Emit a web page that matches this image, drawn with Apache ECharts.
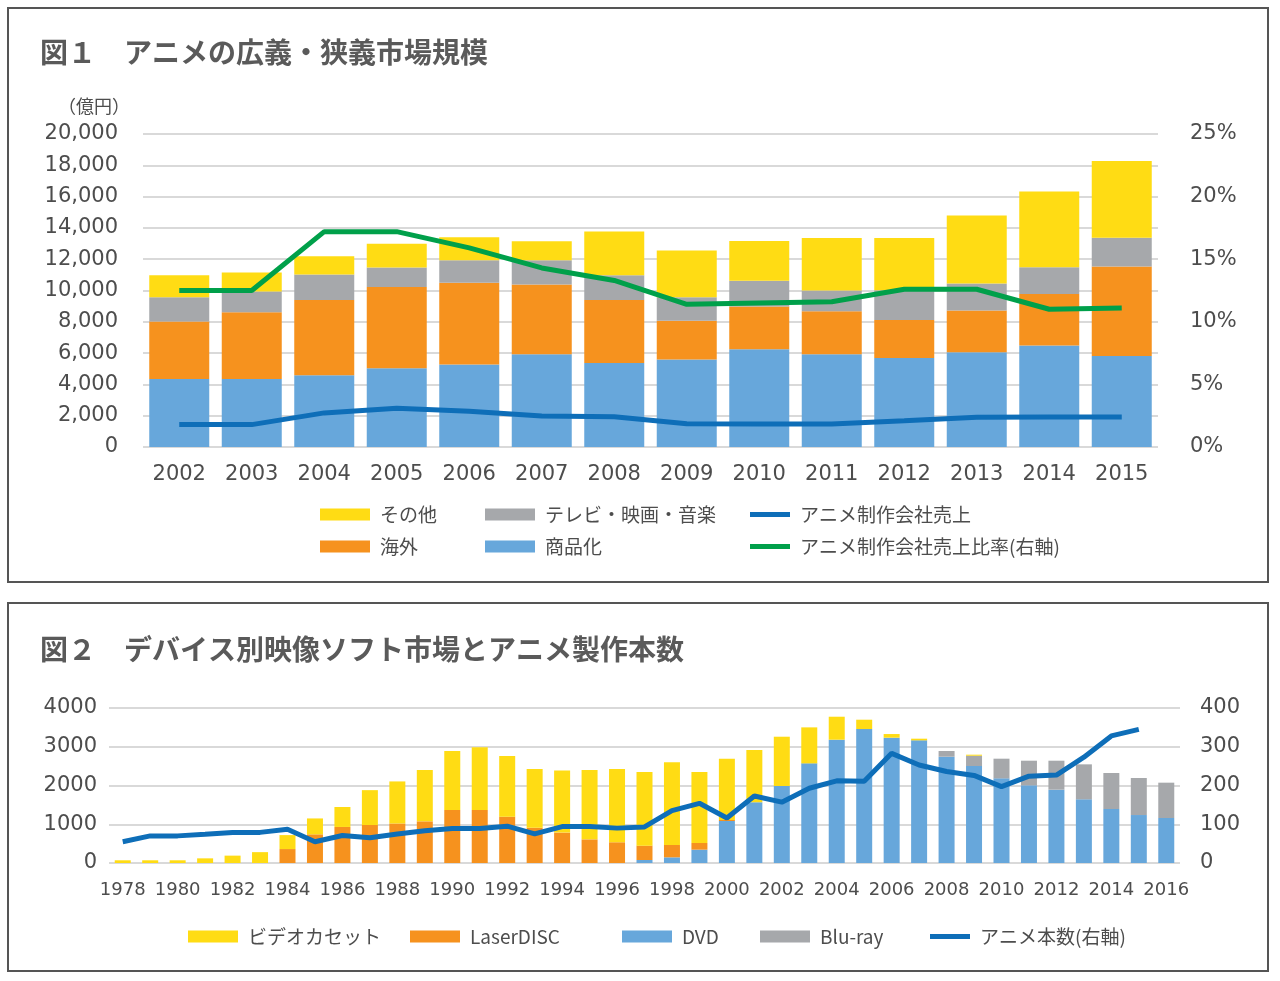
<!DOCTYPE html>
<html>
<head>
<meta charset="utf-8">
<script src="https://cdn.jsdelivr.net/npm/echarts@6/dist/echarts.min.js"></script>
<style>
  html, body { margin: 0; padding: 0; background: #fff; }
  #main { width: 1280px; height: 981px; }
</style>
</head>
<body>
<div id="main"></div>
<script>
// ---- 図1 data ----
const years1 = ['2002', '2003', '2004', '2005', '2006', '2007', '2008', '2009', '2010', '2011', '2012', '2013', '2014', '2015']
const shohinka = [4350, 4350, 4580, 5030, 5270, 5930, 5370, 5590, 6250, 5930, 5690, 6060, 6480, 5820]
const kaigai = [3670, 4260, 4820, 5200, 5220, 4450, 4030, 2470, 2730, 2750, 2430, 2660, 3290, 5710]
const tvEigaOngaku = [1550, 1320, 1620, 1240, 1450, 1560, 1580, 1510, 1640, 1320, 1900, 1730, 1720, 1840]
const sonota = [1410, 1220, 1170, 1510, 1470, 1210, 2790, 2980, 2540, 3350, 3330, 4350, 4840, 4900]
const seisakuUriage = [1430, 1430, 2180, 2470, 2280, 1980, 1930, 1490, 1470, 1470, 1680, 1900, 1920, 1920]
const uriageHiritsu = [12.5, 12.5, 17.2, 17.2, 15.9, 14.3, 13.3, 11.4, 11.5, 11.6, 12.6, 12.6, 11.0, 11.1]
const leftTicks1 = { min: 0, max: 20000, interval: 2000 }
const rightTicks1 = { min: 0, max: 25, interval: 5 }

// ---- 図2 data ----
const years2 = []
for (let y = 1978; y <= 2016; y++) years2.push(String(y))
const video = [70, 70, 70, 120, 190, 280, 360, 410, 515, 900, 1085, 1325, 1520, 1615, 1565, 1515, 1600, 1790, 1890, 1900, 2133, 1832, 1582, 1350, 1272, 929, 593, 241, 94, 43, 0, 26, 0, 0, 0, 0, 0, 0, 0]
const laserDisc = [0, 0, 0, 0, 0, 0, 360, 740, 930, 980, 1020, 1075, 1370, 1370, 1195, 910, 785, 610, 535, 370, 318, 172, 26, 0, 0, 0, 0, 0, 0, 0, 0, 0, 0, 0, 0, 0, 0, 0, 0]
const dvd = [0, 0, 0, 0, 0, 0, 0, 0, 0, 0, 0, 0, 0, 0, 0, 0, 0, 0, 0, 77, 146, 344, 1084, 1565, 1987, 2571, 3182, 3457, 3234, 3165, 2743, 2503, 2184, 2004, 1892, 1643, 1393, 1238, 1161]
const bluRay = [0, 0, 0, 0, 0, 0, 0, 0, 0, 0, 0, 0, 0, 0, 0, 0, 0, 0, 0, 0, 0, 0, 0, 0, 0, 0, 0, 0, 0, 0, 147, 266, 508, 636, 748, 903, 929, 955, 912]
const animeHonsu = [55, 70, 70, 74, 79, 79, 87, 55, 71, 65, 75, 83, 89, 89, 95, 75, 94, 94, 90, 93, 135, 154, 116, 173, 157, 193, 212, 211, 283, 253, 236, 226, 197, 224, 227, 273, 328, 345, null]
const leftTicks2 = { min: 0, max: 4000, interval: 1000 }
const rightTicks2 = { min: 0, max: 400, interval: 100 }

const c = {
  yellow: '#FFDC14',
  orange: '#F6921E',
  gray: '#A6A8AB',
  lightBlue: '#67A7DB',
  blue: '#0E6EB8',
  green: '#00A04A',
  text: '#4d4d4d',
  grid: '#cccccc',
}
const numFont = 'DejaVu Sans'
const jpFont = 'Noto Sans CJK JP'

const chart = echarts.init(document.getElementById('main'))

function legendItem(name, left, top, opts) {
  const isLine = opts && opts.line
  return {
    data: [{ name: name, icon: 'rect' }],
    left: left,
    top: top,
    padding: 0,
    itemWidth: isLine ? 40 : 50,
    itemHeight: isLine ? 5 : 12,
    selectedMode: false,
    textStyle: { fontSize: 19, color: c.text, fontFamily: jpFont, padding: [0, 0, 0, 5] },
  }
}

function barSeries(name, data, color, xi, yi, width) {
  return {
    name: name,
    type: 'bar',
    stack: 'g' + xi,
    xAxisIndex: xi,
    yAxisIndex: yi,
    barWidth: width,
    itemStyle: { color: color },
    data: data,
  }
}

function lineSeries(name, data, color, xi, yi) {
  return {
    name: name,
    type: 'line',
    xAxisIndex: xi,
    yAxisIndex: yi,
    symbol: 'none',
    lineStyle: { color: color, width: 5 },
    itemStyle: { color: color },
    z: 5,
    data: data,
  }
}

const option = {
  animation: false,
  backgroundColor: '#fff',
  title: [
    {
      text: '図１　アニメの広義・狭義市場規模',
      left: 40, top: 38, padding: 0,
      textStyle: { fontSize: 28, fontWeight: 'bold', color: '#5a5a5a', fontFamily: jpFont },
    },
    {
      text: '図２　デバイス別映像ソフト市場とアニメ製作本数',
      left: 40, top: 635, padding: 0,
      textStyle: { fontSize: 28, fontWeight: 'bold', color: '#5a5a5a', fontFamily: jpFont },
    },
  ],
  graphic: [
    { type: 'rect', shape: { x: 8, y: 8, width: 1260, height: 574 }, style: { fill: 'none', stroke: '#555', lineWidth: 2 } },
    { type: 'rect', shape: { x: 8, y: 603, width: 1260, height: 368 }, style: { fill: 'none', stroke: '#555', lineWidth: 2 } },
    { type: 'text', left: 58, top: 97, style: { text: '（億円）', fontSize: 18, fill: c.text, fontFamily: jpFont } },
  ],
  legend: [
    legendItem('その他', 320, 505),
    legendItem('テレビ・映画・音楽', 485, 505),
    legendItem('アニメ制作会社売上', 750, 505, { line: true }),
    legendItem('海外', 320, 537),
    legendItem('商品化', 485, 537),
    legendItem('アニメ制作会社売上比率(右軸)', 750, 537, { line: true }),
    legendItem('ビデオカセット', 188, 927),
    legendItem('LaserDISC', 410, 927),
    legendItem('DVD', 622, 927),
    legendItem('Blu-ray', 760, 927),
    legendItem('アニメ本数(右軸)', 930, 927, { line: true }),
  ],
  grid: [
    { left: 143, right: 122, top: 134, bottom: 534 },
    { left: 109, right: 100, top: 708, bottom: 118 },
  ],
  xAxis: [
    {
      type: 'category', gridIndex: 0, data: years1,
      axisLine: { show: false }, axisTick: { show: false },
      axisLabel: { fontSize: 21, color: c.text, fontFamily: numFont, margin: 17 },
    },
    {
      type: 'category', gridIndex: 1, data: years2,
      axisLine: { show: false }, axisTick: { show: false },
      axisLabel: { fontSize: 18, color: c.text, fontFamily: numFont, margin: 18, interval: 1 },
    },
  ],
  yAxis: [
    {
      type: 'value', gridIndex: 0, ...leftTicks1,
      axisLine: { show: false }, axisTick: { show: false },
      axisLabel: {
        fontSize: 21, color: c.text, fontFamily: numFont, margin: 25,
        formatter: v => v.toLocaleString('en-US'),
      },
      splitLine: { lineStyle: { color: c.grid, width: 1.5 } },
    },
    {
      type: 'value', gridIndex: 0, position: 'right', ...rightTicks1,
      axisLine: { show: false }, axisTick: { show: false },
      axisLabel: { fontSize: 21, color: c.text, fontFamily: numFont, margin: 32, formatter: '{value}%' },
      splitLine: { show: false },
    },
    {
      type: 'value', gridIndex: 1, ...leftTicks2,
      axisLine: { show: false }, axisTick: { show: false },
      axisLabel: { fontSize: 21, color: c.text, fontFamily: numFont, margin: 12, formatter: v => String(v) },
      splitLine: { lineStyle: { color: c.grid, width: 1.5 } },
    },
    {
      type: 'value', gridIndex: 1, position: 'right', ...rightTicks2,
      axisLine: { show: false }, axisTick: { show: false },
      axisLabel: { fontSize: 21, color: c.text, fontFamily: numFont, margin: 20, formatter: v => String(v) },
      splitLine: { show: false },
    },
  ],
  series: [
    barSeries('商品化', shohinka, c.lightBlue, 0, 0, 60),
    barSeries('海外', kaigai, c.orange, 0, 0, 60),
    barSeries('テレビ・映画・音楽', tvEigaOngaku, c.gray, 0, 0, 60),
    barSeries('その他', sonota, c.yellow, 0, 0, 60),
    lineSeries('アニメ制作会社売上', seisakuUriage, c.blue, 0, 0),
    lineSeries('アニメ制作会社売上比率(右軸)', uriageHiritsu, c.green, 0, 1),

    barSeries('DVD', dvd, c.lightBlue, 1, 2, 16),
    barSeries('LaserDISC', laserDisc, c.orange, 1, 2, 16),
    barSeries('Blu-ray', bluRay, c.gray, 1, 2, 16),
    barSeries('ビデオカセット', video, c.yellow, 1, 2, 16),
    lineSeries('アニメ本数(右軸)', animeHonsu, c.blue, 1, 3),
  ],
}

chart.setOption(option)
</script>
</body>
</html>
